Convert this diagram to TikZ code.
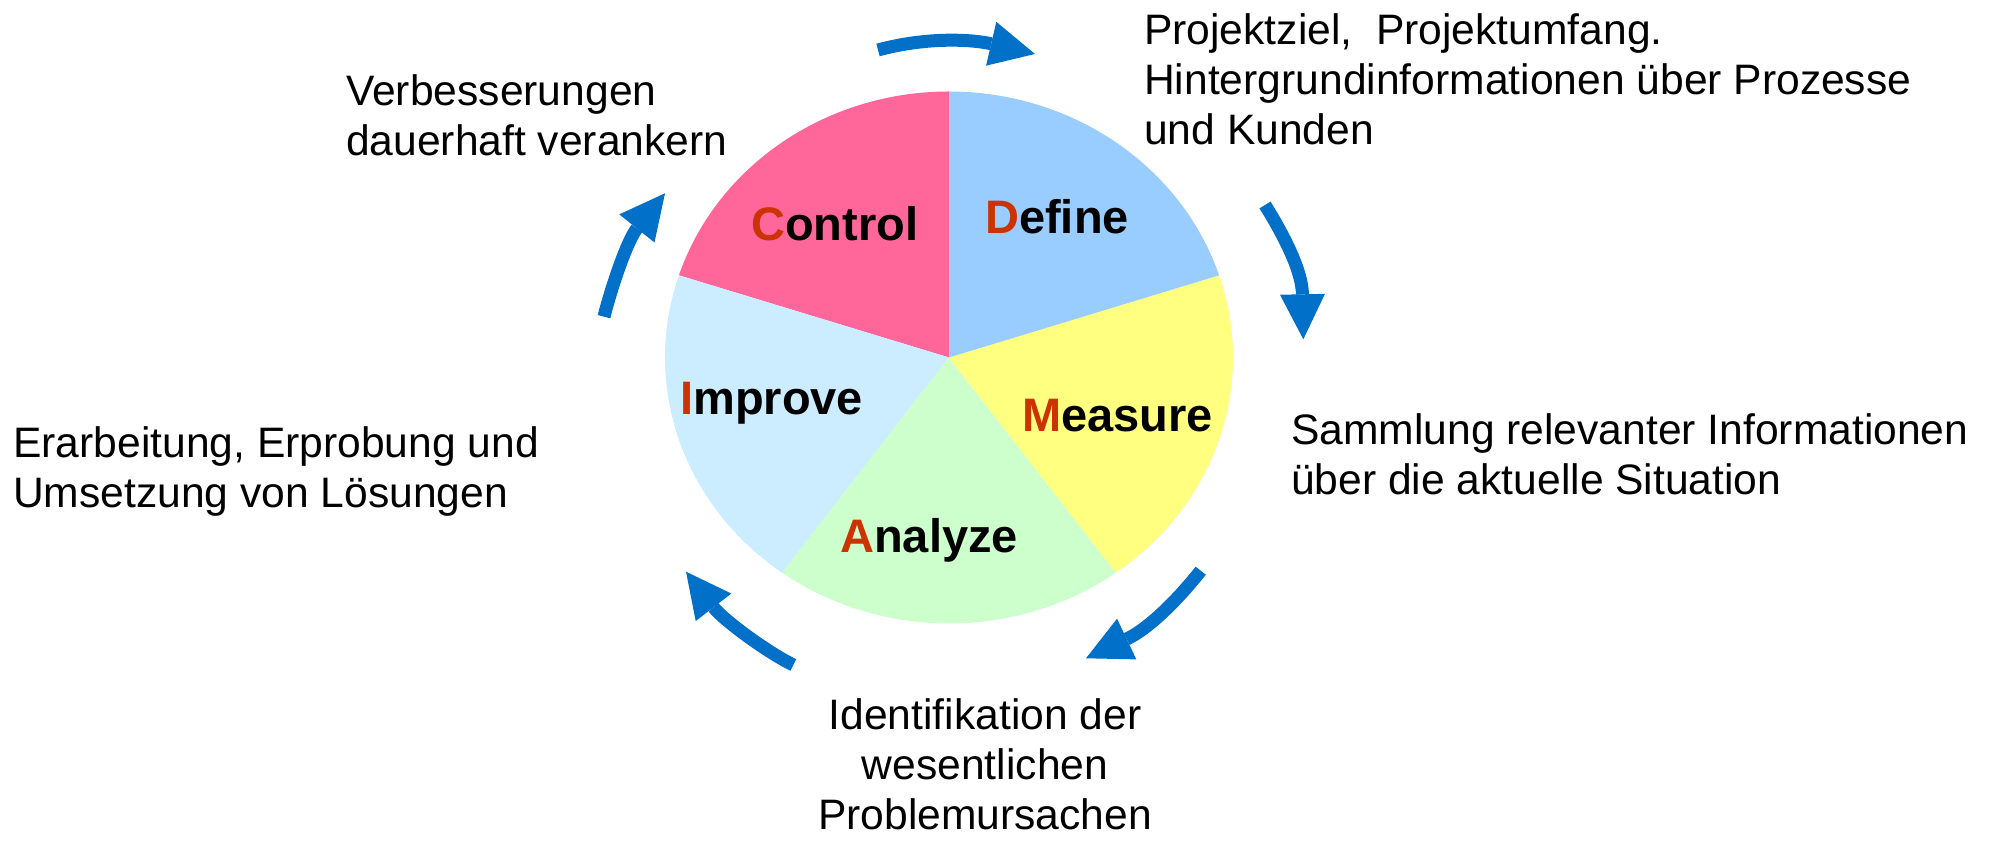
\documentclass[tikz,border=0pt]{standalone}
\usepackage{fontspec}
\setmainfont{Liberation Sans}
\usetikzlibrary{arrows.meta}
\definecolor{cctrl}{HTML}{FF6699}
\definecolor{cdef}{HTML}{99CCFF}
\definecolor{cmeas}{HTML}{FFFF80}
\definecolor{cana}{HTML}{CCFFCC}
\definecolor{cimp}{HTML}{CCECFF}
\definecolor{letterred}{HTML}{CC3300}
\definecolor{arrowblue}{HTML}{0070C8}
\tikzset{
  lbl/.style={font=\fontsize{47}{56}\selectfont\bfseries, anchor=base west, inner sep=0pt},
  txt/.style={font=\fontsize{42.6}{50}\selectfont, align=left, inner sep=0pt, anchor=base west},
  txtc/.style={font=\fontsize{42.6}{50}\selectfont, align=center, inner sep=0pt, anchor=base},
  cyc/.style={draw=arrowblue, line width=13pt, -{Triangle[length=45pt,width=45pt,line width=0pt]}},
}
\newcommand{\R}[1]{\textcolor{letterred}{#1}}
\begin{document}
\begin{tikzpicture}[x=1pt,y=1pt]
\useasboundingbox (0,0) rectangle (1993,842);
\coordinate (c) at (949,484.5);
% pie wedges
\fill[cctrl] (c) -- ++(90:284 and 266) arc[start angle=90,end angle=162,x radius=284,y radius=266] -- cycle;
\fill[cimp] (c) -- ++(162:284 and 266) arc[start angle=162,end angle=234,x radius=284,y radius=266] -- cycle;
\fill[cana] (c) -- ++(234:284 and 266) arc[start angle=234,end angle=306,x radius=284,y radius=266] -- cycle;
\fill[cmeas] (c) -- ++(306:284 and 266) arc[start angle=306,end angle=378,x radius=284,y radius=266] -- cycle;
\fill[cdef] (c) -- ++(18:284 and 266) arc[start angle=18,end angle=90,x radius=284,y radius=266] -- cycle;
% wedge labels
\node[lbl] (lc) at (751,601.3) {\R{C}ontrol};
\node[lbl] (ld) at (985,608) {\R{D}efine};
\node[lbl] (li) at (680,427.4) {\R{I}mprove};
\node[lbl] (lm) at (1022,410.6) {\R{M}easure};
\node[lbl] (la) at (840,289) {\R{A}nalyze};
% texts (anchor = baseline of last line)
\node[txt] (tdef) at (1144,697) {Projektziel,\ \ Projektumfang.\\Hintergrundinformationen über Prozesse\\und Kunden};
\node[txt] (tmeas) at (1291,347) {Sammlung relevanter Informationen\\über die aktuelle Situation};
\node[txtc] (tana) at (985,12) {Identifikation der\\wesentlichen\\Problemursachen};
\node[txt] (timp) at (13,334) {Erarbeitung, Erprobung und\\Umsetzung von Lösungen};
\node[txt] (tctrl) at (346,686) {Verbesserungen\\dauerhaft verankern};
% cycle arrows
\coordinate (a1s) at (878,792);
\coordinate (a1e) at (1035,788);
\coordinate (a2s) at (1265,637);
\coordinate (a2e) at (1303.3,502.7);
\coordinate (a3s) at (1200.7,271.3);
\coordinate (a3e) at (1086,183.7);
\coordinate (a4s) at (793.3,177);
\coordinate (a4e) at (686,270.3);
\coordinate (a5s) at (604,525.3);
\coordinate (a5e) at (665,648.7);
\draw[cyc] (a1s) .. controls (930,806) and (975,802) .. (a1e);
\draw[cyc] (a2s) .. controls (1283,608) and (1302,572) .. (a2e);
\draw[cyc] (a3s) .. controls (1180,245) and (1150,214) .. (a3e);
\draw[cyc] (a4s) .. controls (765,191) and (722.7,222.8) .. (a4e);
\draw[cyc] (a5s) .. controls (612,557) and (627.5,601.8) .. (a5e);
\end{tikzpicture}
\end{document}
